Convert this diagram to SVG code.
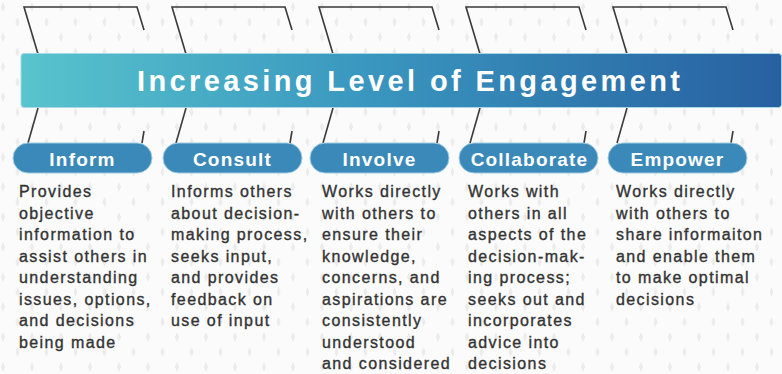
<svg xmlns="http://www.w3.org/2000/svg" width="782" height="374" viewBox="0 0 782 374">
  <defs>
    <pattern id="bgp" x="0" y="0" width="29" height="30" patternUnits="userSpaceOnUse">
      <rect width="29" height="30" fill="#fbfbfb"/>
      <path d="M3 2 L5 7 L3 12 L1 7 Z" fill="#ececec"/>
      <path d="M17.5 17 L19.5 22 L17.5 27 L15.5 22 Z" fill="#ececec"/>
    </pattern>
    <linearGradient id="bannerGrad" x1="0" y1="0" x2="1" y2="0">
      <stop offset="0" stop-color="#58c4cd"/>
      <stop offset="0.45" stop-color="#3a97bf"/>
      <stop offset="1" stop-color="#2760a1"/>
    </linearGradient>
    <style>
      .ol { fill: none; stroke: #3a3a3a; stroke-width: 1.6; stroke-linejoin: miter; }
      .pill { fill: #3b89b8; stroke: #9fcbe2; stroke-width: 1; }
      .plabel { font-family: "Liberation Sans", Arial, sans-serif; font-weight: bold; font-size: 19px; fill: #ffffff; letter-spacing: 1.2px; text-anchor: middle; }
      .body { font-family: "Liberation Sans", Arial, sans-serif; font-size: 16px; fill: #333333; stroke: #333333; stroke-width: 0.35; letter-spacing: 1.4px; }
      .title { font-family: "Liberation Sans", Arial, sans-serif; font-weight: bold; font-size: 29px; fill: #ffffff; }
    </style>
  </defs>

  <rect width="782" height="374" fill="url(#bgp)"/>

  <g id="connectors">
    <g class="ol">
      <polyline points="38,54 24,7 137,7 144,30"/>
      <line x1="38" y1="108" x2="28" y2="143"/>
      <line x1="144" y1="131" x2="142" y2="143"/>
    </g>
    <g class="ol" transform="translate(148,0)">
      <polyline points="38,54 24,7 137,7 144,30"/>
      <line x1="38" y1="108" x2="28" y2="143"/>
      <line x1="144" y1="131" x2="142" y2="143"/>
    </g>
    <g class="ol" transform="translate(295,0)">
      <polyline points="38,54 24,7 137,7 144,30"/>
      <line x1="38" y1="108" x2="28" y2="143"/>
      <line x1="144" y1="131" x2="142" y2="143"/>
    </g>
    <g class="ol" transform="translate(442,0)">
      <polyline points="38,54 24,7 137,7 144,30"/>
      <line x1="38" y1="108" x2="28" y2="143"/>
      <line x1="144" y1="131" x2="142" y2="143"/>
    </g>
    <g class="ol" transform="translate(589,0)">
      <polyline points="38,54 24,7 137,7 144,30"/>
      <line x1="38" y1="108" x2="28" y2="143"/>
      <line x1="144" y1="131" x2="142" y2="143"/>
    </g>
  </g>

  <g id="banner">
    <rect x="21" y="53.5" width="760.5" height="54" rx="3" fill="url(#bannerGrad)" stroke="#a8d8e6" stroke-width="1"/>
    <text class="title" x="137" y="91" textLength="543" lengthAdjust="spacing">Increasing Level of Engagement</text>
  </g>

  <g id="inform">
    <rect class="pill" x="13" y="143" width="139" height="30" rx="15"/>
    <text class="plabel" x="82.5" y="166">Inform</text>
    <text class="body" x="19">
      <tspan x="19" y="197">Provides</tspan>
      <tspan x="19" y="218.5">objective</tspan>
      <tspan x="19" y="240">information to</tspan>
      <tspan x="19" y="261.5">assist others in</tspan>
      <tspan x="19" y="283">understanding</tspan>
      <tspan x="19" y="304.5">issues, options,</tspan>
      <tspan x="19" y="326">and decisions</tspan>
      <tspan x="19" y="347.5">being made</tspan>
    </text>
  </g>

  <g id="consult">
    <rect class="pill" x="163" y="143" width="139" height="30" rx="15"/>
    <text class="plabel" x="232.5" y="166">Consult</text>
    <text class="body" x="171">
      <tspan x="171" y="197">Informs others</tspan>
      <tspan x="171" y="218.5">about decision-</tspan>
      <tspan x="171" y="240">making process,</tspan>
      <tspan x="171" y="261.5">seeks input,</tspan>
      <tspan x="171" y="283">and provides</tspan>
      <tspan x="171" y="304.5">feedback on</tspan>
      <tspan x="171" y="326">use of input</tspan>
    </text>
  </g>

  <g id="involve">
    <rect class="pill" x="310" y="143" width="139" height="30" rx="15"/>
    <text class="plabel" x="379.5" y="166">Involve</text>
    <text class="body" x="322">
      <tspan x="322" y="197">Works directly</tspan>
      <tspan x="322" y="218.5">with others to</tspan>
      <tspan x="322" y="240">ensure their</tspan>
      <tspan x="322" y="261.5">knowledge,</tspan>
      <tspan x="322" y="283">concerns, and</tspan>
      <tspan x="322" y="304.5">aspirations are</tspan>
      <tspan x="322" y="326">consistently</tspan>
      <tspan x="322" y="347.5">understood</tspan>
      <tspan x="322" y="369">and considered</tspan>
    </text>
  </g>

  <g id="collaborate">
    <rect class="pill" x="459" y="143" width="139" height="30" rx="15"/>
    <text class="plabel" x="529.5" y="166">Collaborate</text>
    <text class="body" x="468">
      <tspan x="468" y="197">Works with</tspan>
      <tspan x="468" y="218.5">others in all</tspan>
      <tspan x="468" y="240">aspects of the</tspan>
      <tspan x="468" y="261.5">decision-mak-</tspan>
      <tspan x="468" y="283">ing process;</tspan>
      <tspan x="468" y="304.5">seeks out and</tspan>
      <tspan x="468" y="326">incorporates</tspan>
      <tspan x="468" y="347.5">advice into</tspan>
      <tspan x="468" y="369">decisions</tspan>
    </text>
  </g>

  <g id="empower">
    <rect class="pill" x="608" y="143" width="139" height="30" rx="15"/>
    <text class="plabel" x="677.5" y="166">Empower</text>
    <text class="body" x="616">
      <tspan x="616" y="197">Works directly</tspan>
      <tspan x="616" y="218.5">with others to</tspan>
      <tspan x="616" y="240">share informaiton</tspan>
      <tspan x="616" y="261.5">and enable them</tspan>
      <tspan x="616" y="283">to make optimal</tspan>
      <tspan x="616" y="304.5">decisions</tspan>
    </text>
  </g>
</svg>
